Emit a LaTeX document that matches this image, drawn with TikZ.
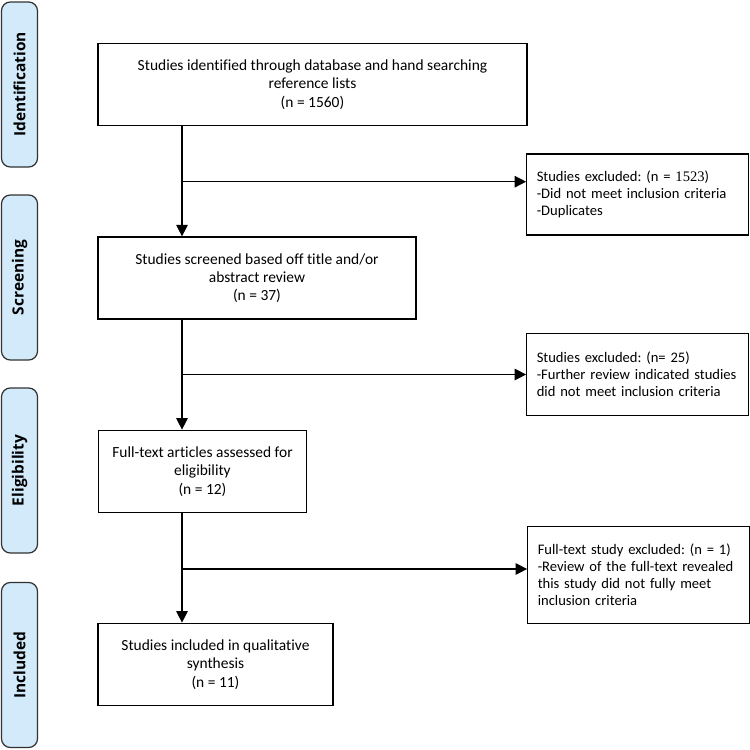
\documentclass[tikz,border=0pt]{standalone}
\usepackage{fontspec}
\setmainfont{Carlito}[Ligatures=CommonOff]
\newfontfamily\stagefont{Open Sans}
\newfontfamily\numfont{Liberation Serif}
\usepackage{tikz}
\usetikzlibrary{positioning,shapes,arrows.meta,calc}

\definecolor{stageblue}{RGB}{210,234,250}
\definecolor{stageline}{RGB}{50,50,50}

\tikzset{
  stagebox/.style = {draw = stageline, fill = stageblue, rounded corners = 5pt, line width = 0.7pt,
    minimum width = 0.72cm, minimum height = 3.3cm, inner sep = 0pt,
    font = \stagefont\bfseries\fontsize{8.8}{10}\selectfont},
  flowbox/.style = {draw, line width = 0.7pt, align = center, inner sep = 0pt,
    font = \fontsize{8.8}{10.4}\selectfont},
  exclbox/.style = {draw, line width = 0.7pt, align = left, inner ysep = 0pt, inner xsep = 0.2cm,
    minimum width = 4.43cm, text width = 4.03cm, font = \fontsize{8.3}{9.7}\selectfont},
  flowarrow/.style = {line width = 0.7pt, -{Triangle[length = 6.5pt, width = 6.5pt]}}
}

\begin{document}
\frenchspacing
\begin{tikzpicture}

\useasboundingbox (0,0) rectangle (15,-15);

% stage labels on the left
\node[stagebox] (lident) at (0.39, -1.69) {\rotatebox{90}{Identification}};
\node[stagebox] (lscreen) at (0.39, -5.55) {\rotatebox{90}{Screening}};
\node[stagebox] (lelig) at (0.39, -9.41) {\rotatebox{90}{Eligibility}};
\node[stagebox] (lincl) at (0.39, -13.30) {\rotatebox{90}{Included}};

% main flow
\node[flowbox, minimum width = 8.58cm, minimum height = 1.65cm] (ident) at (6.25, -1.69)
  {Studies identified through database and hand searching\\ reference lists\\ (n = 1560)};
\node[flowbox, minimum width = 6.36cm, minimum height = 1.64cm] (screen) at (5.14, -5.56)
  {Studies screened based off title and/or\\ abstract review\\ (n = 37)};
\node[flowbox, minimum width = 4.17cm, minimum height = 1.65cm] (elig) at (4.05, -9.43)
  {Full-text articles assessed for\\ eligibility\\ (n = 12)};
\node[flowbox, minimum width = 4.70cm, minimum height = 1.65cm] (incl) at (4.31, -13.29)
  {Studies included in qualitative\\ synthesis\\ (n = 11)};

% exclusions
\node[exclbox, minimum height = 1.62cm] (excl1) at (12.75, -3.89)
  {Studies excluded: (n = {\numfont 1523})\\ -Did not meet inclusion criteria\\ -Duplicates};
\node[exclbox, minimum height = 1.65cm] (excl2) at (12.75, -7.49)
  {Studies excluded: (n= 25)\\ -Further review indicated studies\\ did not meet inclusion criteria};
\node[exclbox, minimum height = 1.93cm] (excl3) at (12.77, -11.50)
  {Full-text study excluded: (n = 1)\\ -Review of the full-text revealed\\ this study did not fully meet\\ inclusion criteria};

\coordinate (spine) at (3.64, 0);

\draw[flowarrow] (ident.south -| spine) -- (screen.north -| spine);
\draw[flowarrow] (screen.south -| spine) -- (elig.north -| spine);
\draw[flowarrow] (elig.south -| spine) -- (incl.north -| spine);

\draw[flowarrow] ([yshift = 0.256cm]excl1.west -| spine) -- ([yshift = 0.256cm]excl1.west);
\draw[flowarrow] (excl2.west -| spine) -- (excl2.west);
\draw[flowarrow] ([yshift = 0.12cm]excl3.west -| spine) -- ([yshift = 0.12cm]excl3.west);

\end{tikzpicture}
\end{document}
